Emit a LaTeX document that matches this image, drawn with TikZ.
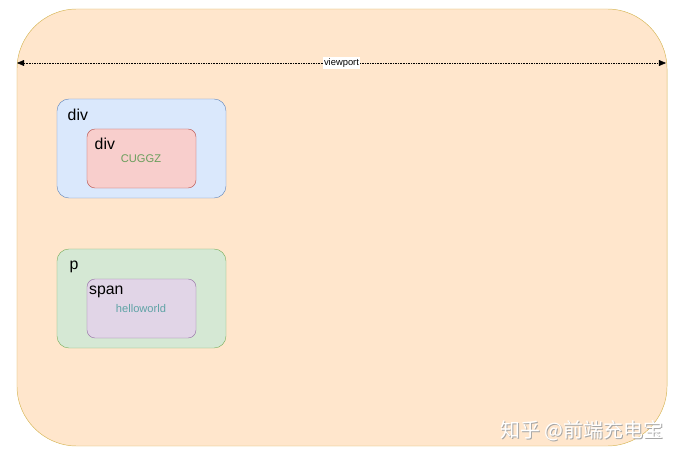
\documentclass[tikz,border=0pt]{standalone}
\usepackage{fontspec}
\setmainfont{Liberation Sans}
\newfontfamily\cjkfont{Noto Sans CJK SC}
\usetikzlibrary{arrows.meta}

\definecolor{vpfill}{HTML}{FFE6CC}
\definecolor{vpline}{HTML}{D6B656}
\definecolor{bluefill}{HTML}{DAE8FC}
\definecolor{blueline}{HTML}{6C8EBF}
\definecolor{redfill}{HTML}{F8CECC}
\definecolor{redline}{HTML}{B85450}
\definecolor{greenfill}{HTML}{D5E8D4}
\definecolor{greenline}{HTML}{82B366}
\definecolor{purplefill}{HTML}{E1D5E7}
\definecolor{purpleline}{HTML}{9673A6}
\definecolor{cuggztext}{HTML}{6A9E5C}
\definecolor{hellotext}{HTML}{5FA3A6}

\begin{document}
\begin{tikzpicture}[
  x=0.03cm, y=-0.03cm,
  every node/.style={font=\fontsize{13.5}{15}\selectfont},
  outerbox/.style={rectangle, draw=vpline, fill=vpfill, rounded corners=1.8cm,
    minimum width=19.5cm, minimum height=13.11cm, inner sep=0pt},
  bigbox/.style={rectangle, draw, rounded corners=0.36cm,
    minimum width=5.07cm, minimum height=2.97cm, inner sep=0pt},
  smallbox/.style={rectangle, draw, rounded corners=0.24cm,
    minimum width=3.27cm, minimum height=1.77cm, inner sep=0pt},
  tagname/.style={anchor=north west, inner sep=0pt},
  content/.style={font=\fontsize{9.5}{11}\selectfont, inner sep=0pt},
]
\useasboundingbox (0,0) rectangle (684,457);

% Viewport
\node[outerbox] (vp) at (342,227.5) {};
\coordinate (vpL) at (17,63);
\coordinate (vpR) at (666,63);
\draw[densely dotted, {Triangle[length=6pt,width=5pt]}-{Triangle[length=6pt,width=5pt]}] (vpL) -- (vpR)
  node[midway, fill=white, inner sep=1pt, font=\fontsize{8}{9}\selectfont] (vplabel) {viewport};

% div > div
\node[bigbox, draw=blueline, fill=bluefill] (outerdiv) at (141.5,148.5) {};
\node[tagname] (outerdivtag) at (67.5,108.5) {div};
\node[smallbox, draw=redline, fill=redfill] (innerdiv) at (141.5,158.5) {};
\node[tagname] (innerdivtag) at (94.5,138) {div};
\node[content, text=cuggztext] (cuggz) at (141,158.5) {CUGGZ};

% p > span
\node[bigbox, draw=greenline, fill=greenfill] (para) at (141.5,298.5) {};
\node[tagname] (paratag) at (69.5,261) {p};
\node[smallbox, draw=purpleline, fill=purplefill] (spanbox) at (141.5,308.5) {};
\node[tagname] (spantag) at (89,286) {span};
\node[content, text=hellotext] (hello) at (141,308.5) {helloworld};

% Watermark
\node[font=\cjkfont\fontsize{17}{19}\selectfont, text=gray!70] (markshadow) at (583,432) {知乎 @前端充电宝};
\node[font=\cjkfont\fontsize{17}{19}\selectfont, text=white] (mark) at (582,431) {知乎 @前端充电宝};
\end{tikzpicture}
\end{document}
